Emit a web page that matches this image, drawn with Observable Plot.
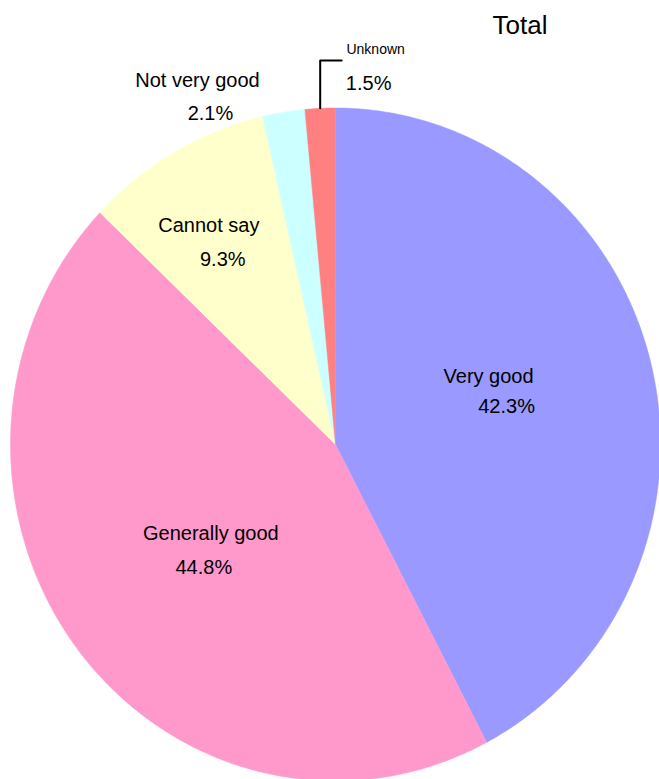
<!DOCTYPE html>
<html><head><meta charset="utf-8">
<script src="https://cdn.jsdelivr.net/npm/d3@7"></script>
<script src="https://cdn.jsdelivr.net/npm/@observablehq/plot@0.6"></script>
<style>body{margin:0;background:#fff;}</style>
</head><body><div id="chart"></div>
<script>
// ---- data ----
const categories = ["Very good", "Generally good", "Cannot say", "Not very good", "Unknown"];
const shares = [42.3, 44.8, 9.3, 2.1, 1.5];
const percentLabels = ["42.3%", "44.8%", "9.3%", "2.1%", "1.5%"];
const colors = ["#9999ff", "#ff99cc", "#ffffcc", "#ccffff", "#ff8080"];
const chartTitle = "Total";

// ---- layout (label placement relative to slice mid-angle) ----
const layout = {
  "Very good":      {r: 0.52, name: [-11, -20], pct: [7, 10]},
  "Generally good": {r: 0.50, name: [5, -6],    pct: [-2, 28]},
  "Cannot say":     {r: 0.70, name: [-14, -8],  pct: [0, 26]},
  "Not very good":  {r: 1.10, name: [-81, 8],   pct: [-68, 41]},
  "Unknown":        {leader: true, name: [34, -7], pct: [27, 29]}
};

const arcs = d3.pie().sort(null).startAngle(0).endAngle(2 * Math.PI)(shares);

const polys = [];
const labels = [];
const leader = [];
arcs.forEach((a, i) => {
  const cat = categories[i];
  polys.push({cat, x: 0, y: 0});
  const n = Math.max(2, Math.ceil((a.endAngle - a.startAngle) / (Math.PI / 360)));
  for (let k = 0; k <= n; k++) {
    const t = a.startAngle + (a.endAngle - a.startAngle) * k / n;
    polys.push({cat, x: Math.sin(t), y: Math.cos(t)});
  }
  polys.push({cat, x: 0, y: 0});
  const mid = (a.startAngle + a.endAngle) / 2;
  const L = layout[cat];
  let ax, ay;
  if (L.leader) {
    const sx = Math.sin(mid), sy = Math.cos(mid);
    leader.push({x: sx, y: sy}, {x: sx, y: 1.141}, {x: sx + 0.066, y: 1.141});
    ax = sx + 0.066; ay = 1.141;
  } else {
    ax = L.r * Math.sin(mid); ay = L.r * Math.cos(mid);
  }
  labels.push({cat, pct: percentLabels[i], x: ax, y: ay, L, small: !!L.leader});
});

const font = "'Liberation Sans', Arial, Helvetica, sans-serif";

const nameMarks = labels.map(d => Plot.text([d], {
  x: "x", y: "y", text: "cat", dx: d.L.name[0], dy: d.L.name[1],
  lineAnchor: "bottom", textAnchor: "middle", fill: "black",
  fontSize: d.small ? 14 : 20
}));
const pctMarks = labels.map(d => Plot.text([d], {
  x: "x", y: "y", text: "pct", dx: d.L.pct[0], dy: d.L.pct[1],
  lineAnchor: "bottom", textAnchor: "middle", fill: "black", fontSize: 20
}));

const chart = Plot.plot({
  width: 659,
  height: 779,
  margin: 0,
  style: {fontFamily: font, background: "#fff"},
  x: {domain: [-1, 1], range: [10, 660], axis: null},
  y: {domain: [-1, 1], range: [780.5, 107.5], axis: null},
  color: {domain: categories, range: colors},
  marks: [
    Plot.line(polys, {x: "x", y: "y", z: "cat", fill: "cat", stroke: "cat", strokeWidth: 0.5, curve: "linear"}),
    Plot.line(leader, {x: "x", y: "y", stroke: "black", strokeWidth: 2}),
    ...nameMarks,
    ...pctMarks,
    Plot.text([chartTitle], {frameAnchor: "top-left", dx: 519.5, dy: 33, lineAnchor: "bottom", textAnchor: "middle", fontSize: 26, fill: "black"})
  ]
});
document.getElementById("chart").appendChild(chart);
</script>
</body></html>
